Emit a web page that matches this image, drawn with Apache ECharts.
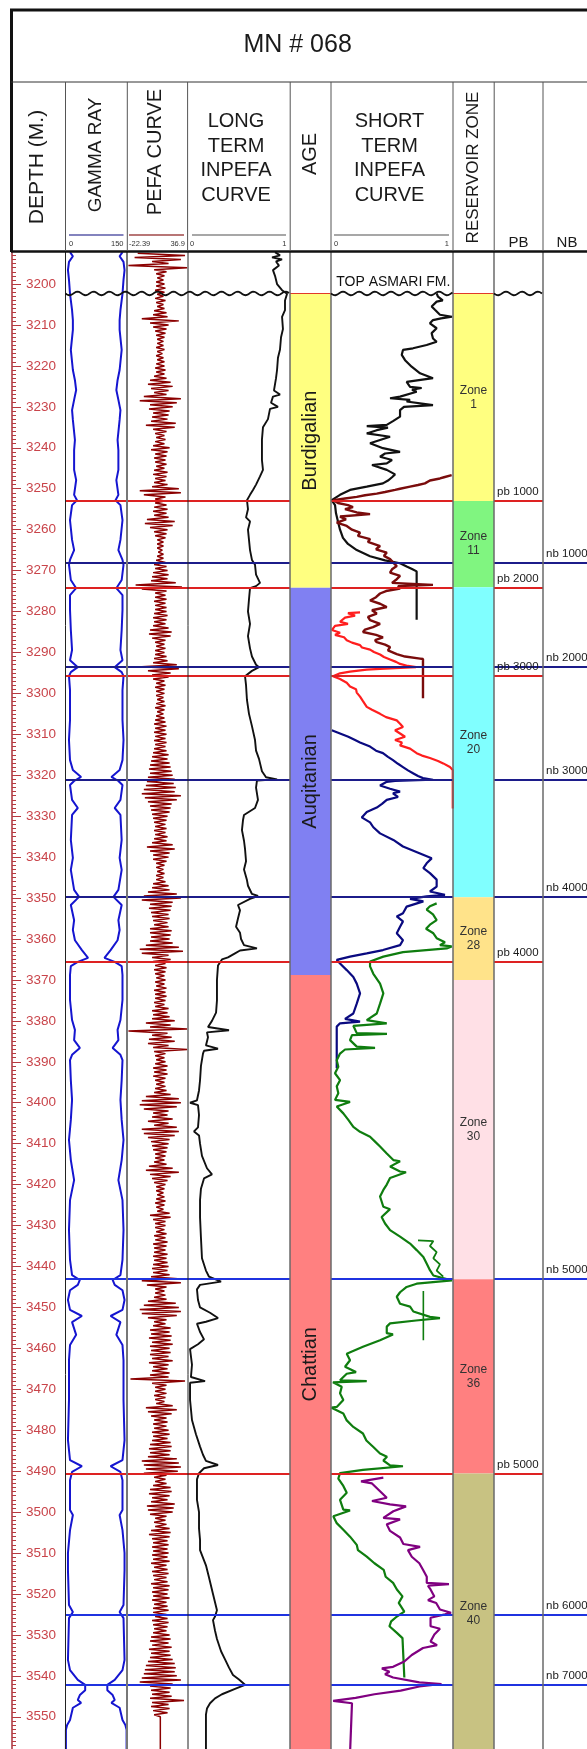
<!DOCTYPE html>
<html>
<head>
<meta charset="utf-8">
<script src="https://cdn.jsdelivr.net/npm/echarts@6.0.0/dist/echarts.min.js"></script>
<style>
html, body { margin: 0; padding: 0; background: #fff; }
#log { width: 587px; height: 1749px; }
</style>
</head>
<body>
<div id="log"></div>
<script>
var FONT = '"Liberation Sans", Arial, Helvetica, sans-serif';

// depth window of the log (metres), 3190 keeps the 10 m ticks on round depths
var DEPTH_MIN = 3190, DEPTH_MAX = 3560;
var topAsmari = 3202.3;

var ageNames = ['Burdigalian', 'Auqitanian', 'Chattian'];
var ageTops = [3202.3, 3274.2, 3368.8];
var ageBases = [3274.2, 3368.8, 3559];

var zoneNames = ['Zone\n1', 'Zone\n11', 'Zone\n20', 'Zone\n28', 'Zone\n30', 'Zone\n36', 'Zone\n40'];
var zoneTops = [3202.3, 3253.0, 3274.1, 3349.8, 3370.0, 3443.1, 3490.6];
var zoneBases = [3253.0, 3274.1, 3349.8, 3370.0, 3443.1, 3490.6, 3559];

var pbNames = ['pb 1000', 'pb 2000', 'pb 3000', 'pb 4000', 'pb 5000'];
var pbDepths = [3252.9, 3274.3, 3295.8, 3365.6, 3490.7];
var nbNames = ['nb 1000', 'nb 2000', 'nb 3000', 'nb 4000', 'nb 5000', 'nb 6000', 'nb 7000'];
var nbDepths = [3268.2, 3293.6, 3321.2, 3349.7, 3443.1, 3525.0, 3542.2];

// gamma ray, API (depth, value)
var gammaRay = [[3192.2,11],[3193.2,18],[3194.6,8.5],[3196.6,6],[3199,8.5],[3202.4,11],[3206.4,16],[3208.8,18],[3211.2,18],[3216.1,13],[3221,18],[3223.5,23],[3225.9,26],[3228.3,21],[3230.8,16],[3233.2,18],[3238.1,23],[3240.6,21],[3245.4,21],[3247.9,26],[3251.5,21],[3252.8,28],[3254,16],[3257.7,11],[3262.5,16],[3265,21],[3267.4,11],[3268.6,8.5],[3272.3,13],[3274.3,26],[3276,11],[3279.6,11],[3284.5,13],[3289.4,16],[3291.9,11],[3293.6,30],[3294.8,13],[3295.8,8.5],[3299.2,11],[3306.5,11],[3311.4,8.5],[3316.3,11],[3318.7,18],[3320.4,38],[3321.4,21],[3322.4,11],[3326,16],[3328,30],[3329.7,16],[3335.8,13],[3340.2,18],[3343.1,13],[3348,21],[3349.7,33],[3351.7,13],[3355.4,21],[3357.8,18],[3360.3,23],[3362.7,40],[3364.6,55],[3365.6,30],[3366.6,13],[3368.8,11],[3374.9,11],[3379.8,16],[3382.2,23],[3384.7,21],[3386.6,35],[3388.3,16],[3389.6,11],[3394.5,13],[3399.3,16],[3404.2,13],[3409.1,8.5],[3414,13],[3418.9,21],[3423.8,11],[3431.1,8.5],[3438.4,11],[3442.1,16],[3443.3,35],[3444.5,30],[3445.8,11],[3448.2,6],[3450.6,11],[3452.1,40],[3453.6,16],[3456.7,26],[3459.2,11],[3462.9,8.5],[3472.6,8.5],[3482.4,6],[3487.3,11],[3488.8,40],[3490.2,16],[3492.2,11],[3499.5,11],[3500.7,18],[3504.4,11],[3510,6],[3514.2,6],[3522.7,8.5],[3524.4,18],[3525.9,8.5],[3536.1,6],[3538.6,11],[3541,30],[3542.2,48],[3543.5,48],[3544.7,35],[3545.9,30],[3546.6,38],[3547.8,18],[3550.8,11],[3552,4],[3553.2,1],[3559,1]];

// PEFA curve sampled every 0.5 m from 3192.5 m
var pefaTop = 3192.5, pefaStep = 0.5;
var pefa = [
  -12,34,-15,30,2,18,-21,36,4,16,6,14,7,13,6,
  14,6,15,5,14,7,13,5,15,6,13,7,14,4,16,3,17,-8,28,0,
  18,3,16,5,15,6,14,7,13,7,13,6,14,7,12,6,13,7,14,6,
  14,5,15,6,14,4,16,0,20,-2,22,1,18,4,16,-6,30,-10,26,0,
  22,-1,19,3,18,2,17,1,25,-4,24,3,16,5,14,6,15,5,14,3,
  19,1,17,5,16,4,15,5,16,6,14,4,17,3,16,5,15,4,17,2,
  28,-10,30,-6,15,5,14,5,16,4,17,3,16,4,18,-3,24,-5,22,0,
  17,4,16,5,15,7,13,7,13,7,12,8,13,7,13,6,15,4,16,5,
  17,3,18,2,17,1,25,-14,31,-8,16,5,15,5,16,4,15,5,16,5,
  16,4,17,3,16,4,15,3,18,0,21,-1,20,2,15,5,14,6,15,5,
  14,5,16,4,17,3,26,-8,28,-2,20,2,18,3,14,6,15,5,14,6,
  14,6,13,7,14,6,15,5,14,7,13,6,14,5,15,4,16,5,15,4,
  16,5,15,4,16,5,15,4,16,3,18,2,17,1,19,0,20,-1,21,0,
  22,-2,24,-3,23,-4,25,-6,24,-8,30,-5,26,-2,21,0,20,1,19,2,
  17,3,16,4,15,5,16,4,15,5,17,4,16,2,22,-3,24,0,19,3,
  18,3,16,6,14,6,13,7,14,6,13,6,15,3,18,2,19,-2,26,-6,
  30,-8,22,0,21,-1,20,1,18,2,19,3,17,4,18,0,21,0,20,1,
  19,0,22,-4,28,-10,32,-8,18,2,20,3,15,5,16,4,15,5,14,6,
  15,5,14,6,16,4,15,5,16,5,15,4,14,5,18,2,17,3,19,2,
  24,-4,20,0,36,-21,17,2,21,-1,24,-2,18,3,36,4,15,5,14,6,
  15,5,17,3,16,4,17,3,15,5,14,6,15,5,16,4,20,-4,28,-8,
  30,-10,26,-6,18,3,17,2,22,-2,18,4,26,-8,28,-6,24,-2,19,1,
  18,2,17,3,16,5,15,5,14,4,16,-1,22,-4,28,0,20,2,17,4,
  15,6,14,6,13,7,14,6,15,5,14,6,13,7,19,0,20,3,15,5,
  15,5,14,6,16,4,15,5,17,3,16,4,15,4,17,3,16,4,17,3,
  18,2,17,3,19,1,27,-8,30,-3,16,5,14,5,15,4,16,-2,25,-6,
  28,-10,30,-8,26,-2,16,4,15,3,20,0,19,1,21,-1,20,2,22,0,
  19,1,20,0,18,2,22,-1,18,3,17,2,19,0,18,-19,34,2,16,5,
  15,5,16,4,15,5,14,6,22,-4,26,-2,21,1,16,4,17,3,16,4,
  18,2,19,3,17,2,20,0,21,-1,20,0,19,-2,26,-8,28,-6,30,-4,
  27,-6,16,4,15,5,16,3,20,0,21,-1,19,2,17,1,24,-3,23,-2,
  22,0,16,5,15,4,16,5,19,1,20,-1,19,2,17,3,18,2,17,3,
  18,2,17,3,19,1,16,4,17,2,18,3,16,4,17,1,19,3,18,2,
  17,3,19,2,16,4,17,3,18,3,16,5,17,2,18,3,17,4,16,3,
  19,1,20,0,18,2,21,-1,19,1,20,0,22,-2,24,-4,25,-5,24,-6,
  26,-8,30,-10,22,0,20,1,19,2,21,0,33,2,18,1,19,3,17,4,10
];
var pefaTail = [[3550.5, 10], [3559, 10]];

// long term INPEFA (depth, value 0..1)
var longTerm = [[3192.2,.853],[3193,.902],[3193.5,.824],[3194,.922],[3194.5,.863],[3195.5,.892],[3196.6,.833],[3198,.853],[3200,.873],[3201.5,.922],[3202.4,.971],[3204,.951],[3206.4,.951],[3208,.922],[3211,.931],[3213,.912],[3216,.902],[3218,.882],[3221,.873],[3223,.863],[3226,.843],[3227,.902],[3227.5,.833],[3229,.814],[3230,.882],[3230.5,.804],[3233,.784],[3235,.735],[3238,.725],[3243,.725],[3245.4,.735],[3247,.706],[3249,.667],[3250.3,.637],[3251.5,.608],[3252.8,.578],[3255,.588],[3257,.569],[3258,.608],[3260,.588],[3262.5,.598],[3265,.608],[3267.4,.627],[3268.6,.657],[3271,.667],[3273,.706],[3273.8,.667],[3274.3,.608],[3277,.598],[3280,.588],[3283,.608],[3286,.588],[3289,.608],[3291,.627],[3293,.667],[3293.6,.696],[3294.5,.627],[3295.8,.559],[3298,.569],[3301.6,.578],[3305,.598],[3308,.627],[3311.4,.657],[3314,.667],[3316,.696],[3319,.725],[3320.5,.765],[3321,.873],[3321.3,.676],[3323,.667],[3326,.686],[3328,.657],[3329.7,.549],[3331,.539],[3333.4,.529],[3336,.549],[3338,.559],[3341,.569],[3343,.549],[3345.6,.578],[3347,.588],[3349,.627],[3349.5,.686],[3350.2,.608],[3351.7,.490],[3353,.510],[3355,.490],[3357,.471],[3358.5,.510],[3360,.520],[3361.5,.549],[3362.3,.676],[3362.8,.510],[3363.5,.461],[3364.5,.392],[3365,.333],[3366.5,.294],[3370,.284],[3375,.284],[3378,.275],[3380,.235],[3381.5,.196],[3382.3,.402],[3382.8,.186],[3384,.196],[3386,.176],[3386.8,.294],[3387.3,.157],[3388,.147],[3391,.127],[3394.5,.118],[3397,.108],[3399.4,.088],[3400,.020],[3400.6,.098],[3403,.108],[3406,.098],[3407,.059],[3408,.108],[3410,.118],[3413,.137],[3416,.186],[3417.5,.235],[3418.5,.157],[3421,.127],[3423.8,.118],[3428,.118],[3433,.127],[3438,.137],[3441,.176],[3442.5,.206],[3443.7,.324],[3444.5,.118],[3445.6,.088],[3448.2,.098],[3450,.118],[3451.3,.216],[3452.6,.294],[3453.5,.176],[3454,.088],[3456,.118],[3457.8,.157],[3459,.098],[3460.2,.020],[3464,.039],[3467,.029],[3468,.167],[3468.4,.020],[3472.6,.020],[3477.5,.039],[3481,.078],[3484,.118],[3486,.147],[3487.5,.176],[3488.5,.294],[3489.3,.157],[3490.5,.108],[3492,.088],[3497,.088],[3500,.108],[3504,.108],[3506.8,.118],[3509.3,.118],[3513,.176],[3516,.206],[3520,.245],[3524,.284],[3525.5,.265],[3526.4,.245],[3529,.265],[3531,.284],[3534,.324],[3536,.363],[3538,.402],[3539.8,.441],[3540.9,.5],[3542.2,.559],[3543.2,.461],[3544.5,.333],[3545.5,.265],[3546.7,.216],[3548,.186],[3549.5,.176],[3559,.176]];

// short term INPEFA pieces (depth, value 0..1)
var stBlack = [[3202.3,.866],[3203.1,.877],[3204,.916],[3204.3,.866],[3205.5,.825],[3206.3,.852],[3207.5,.893],[3208,.992],[3208.4,.902],[3208.8,.836],[3209.6,.811],[3210.8,.866],[3212,.825],[3213.3,.836],[3214.1,.866],[3214.9,.784],[3215.7,.672],[3216.1,.590],[3217.3,.580],[3218.6,.607],[3220.2,.661],[3221.8,.730],[3223,.836],[3223.9,.620],[3225.1,.648],[3225.4,.743],[3225.8,.664],[3226.3,.702],[3227.5,.566],[3227.9,.484],[3228.3,.648],[3228.7,.620],[3229.6,.836],[3230,.598],[3230.8,.566],[3232.4,.566],[3233.5,.508],[3234.4,.457],[3234.7,.293],[3235.1,.467],[3235.7,.375],[3236.5,.293],[3237.3,.484],[3238.1,.402],[3238.9,.320],[3240.1,.426],[3241,.566],[3241.4,.443],[3242.2,.402],[3243,.500],[3243.8,.457],[3244.2,.336],[3245.4,.457],[3246.5,.525],[3247.2,.500],[3248,.467],[3248.7,.426],[3249.5,.293],[3250.3,.156],[3251.5,.074],[3252.8,.006],[3254,.033],[3256,.041],[3258,.057],[3260,.074],[3262,.098],[3263.5,.139],[3265,.211],[3266.5,.320],[3267.5,.443],[3268.2,.566],[3269,.620],[3269.6,.664],[3270.2,.702],[3282,.702]];
var stMaroon = [[3246.7,.989],[3247.2,.926],[3247.5,.893],[3248,.811],[3248.7,.770],[3249.1,.713],[3249.5,.648],[3250,.566],[3250.3,.525],[3250.8,.443],[3251.2,.375],[3251.6,.279],[3252,.211],[3252.4,.115],[3252.8,.019],[3253.5,.057],[3254,.139],[3254.5,.180],[3255,.115],[3255.8,.211],[3256.2,.320],[3256.8,.074],[3257.5,.123],[3258.3,.047],[3259.1,.129],[3260,.172],[3260.7,.238],[3261.5,.221],[3262.3,.320],[3263,.303],[3264,.402],[3264.8,.369],[3265.6,.457],[3266.4,.434],[3267.2,.484],[3268,.508],[3268.9,.539],[3269.7,.500],[3270.5,.484],[3271.3,.566],[3272.1,.539],[3273,.500],[3273.5,.836],[3273.8,.549],[3274.4,.566],[3275,.451],[3275.6,.402],[3276.5,.369],[3277.3,.320],[3278.1,.402],[3278.9,.457],[3279.7,.336],[3280.5,.375],[3281.3,.303],[3282.1,.320],[3283,.402],[3283.8,.344],[3284.4,.279],[3285,.262],[3285.7,.369],[3286.3,.426],[3287,.361],[3287.5,.375],[3288.1,.443],[3288.7,.484],[3289.5,.467],[3290.4,.539],[3291,.607],[3291.5,.730],[3291.6,.754],[3301.2,.754]];
var stRed = [[3280.2,.238],[3280.4,.139],[3281,.197],[3281.5,.115],[3282.5,.074],[3283,.139],[3283.5,.033],[3284.5,.008],[3285.2,.074],[3285.7,.033],[3286.3,.107],[3287,.129],[3287.6,.172],[3288.2,.238],[3288.8,.254],[3289.3,.320],[3289.9,.352],[3290.5,.402],[3291.1,.434],[3291.7,.484],[3292.3,.533],[3292.8,.566],[3293.3,.631],[3293.6,.697],[3294,.402],[3294.2,.293],[3294.7,.156],[3295.1,.074],[3295.8,.016],[3296.5,.074],[3297.4,.129],[3298.3,.156],[3299,.205],[3299.8,.211],[3300.8,.238],[3301.9,.262],[3303.3,.293],[3304,.336],[3305,.402],[3305.8,.451],[3306.6,.539],[3307.4,.566],[3308.2,.590],[3309,.525],[3309.8,.566],[3310.6,.607],[3311.4,.525],[3312,.582],[3312.7,.566],[3313.5,.648],[3314.6,.702],[3315.2,.746],[3315.8,.811],[3316.5,.877],[3317.1,.920],[3318,.975],[3318.7,.998],[3328.1,.998]];
var stNavy = [[3309,.006],[3309.8,.074],[3310.6,.142],[3311.4,.197],[3312,.238],[3313,.320],[3314,.369],[3314.6,.426],[3315.5,.467],[3316.3,.508],[3317.2,.549],[3318,.590],[3318.8,.631],[3319.5,.672],[3320.2,.713],[3320.7,.754],[3321.1,.836],[3321.4,.525],[3321.6,.457],[3322.5,.402],[3323.3,.484],[3324,.566],[3324.4,.508],[3325.3,.549],[3326,.457],[3327,.418],[3327.9,.375],[3329,.293],[3330.3,.252],[3331.5,.320],[3332.7,.347],[3334.2,.402],[3335.8,.511],[3337.4,.590],[3339.1,.730],[3340.3,.825],[3341.5,.784],[3342.7,.757],[3343.9,.811],[3345.5,.866],[3347.2,.866],[3348.4,.811],[3349.2,.934],[3349.6,.784],[3350.2,.648],[3350.8,.757],[3352.1,.620],[3353.7,.590],[3354.5,.539],[3355.7,.590],[3357,.566],[3358.6,.539],[3360.3,.590],[3361.5,.566],[3362.7,.426],[3363.5,.293],[3364.3,.156],[3365.1,.047],[3366,.074],[3367.6,.129],[3369.3,.183],[3370.9,.211],[3373.3,.238],[3375.8,.211],[3378.2,.183],[3379.5,.115],[3380.2,.238],[3380.6,.074],[3381.4,.047],[3391.6,.047]];
var stGreen = [[3351.3,.866],[3352,.811],[3352.8,.784],[3354,.836],[3355.4,.866],[3356.5,.811],[3357.5,.779],[3358.6,.839],[3359.8,.866],[3360.8,.934],[3361.5,.893],[3361.8,.989],[3362.3,.948],[3362.7,.948],[3363.2,.590],[3364.3,.429],[3365.5,.320],[3366.7,.320],[3368.5,.347],[3370.9,.402],[3373.3,.429],[3375.8,.402],[3378.2,.375],[3379.8,.293],[3380.6,.457],[3381.2,.183],[3383,.211],[3383.2,.459],[3383.5,.172],[3384.7,.156],[3386.3,.211],[3386.6,.361],[3387,.115],[3388,.074],[3389.6,.047],[3391.2,.060],[3392.8,.033],[3394.5,.074],[3396,.047],[3397.7,.060],[3399.3,.033],[3399.8,.156],[3400.9,.047],[3402.6,.101],[3404.2,.142],[3405.9,.183],[3407.1,.238],[3408.3,.320],[3409.5,.361],[3410.7,.402],[3412.4,.457],[3414,.511],[3414.3,.566],[3415.6,.484],[3416.8,.566],[3417,.615],[3418.4,.484],[3420,.457],[3421.3,.429],[3422.9,.402],[3425.4,.429],[3426,.484],[3427.9,.415],[3429.5,.443],[3431.1,.484],[3432.7,.566],[3434.4,.648],[3436,.702],[3437.7,.757],[3439.3,.784],[3440.9,.811],[3442.2,.839],[3443.1,.948],[3443.4,.992],[3444.2,.702],[3445,.620],[3446.3,.566],[3447.4,.539],[3449.1,.566],[3449.8,.648],[3451,.675],[3452.3,.811],[3452.6,.893],[3453.2,.697],[3453.9,.484],[3454.7,.457],[3456.3,.457],[3456.6,.508],[3458,.402],[3459.6,.262],[3461.3,.129],[3462.9,.156],[3464.5,.115],[3465.8,.205],[3466.2,.129],[3467.8,.074],[3468,.293],[3468.3,.016],[3469.4,.088],[3471,.074],[3472.6,.101],[3474.3,.047],[3474.5,.004],[3475.9,.101],[3477.6,.129],[3479.2,.183],[3480.8,.262],[3482.5,.290],[3484.1,.347],[3485.7,.402],[3486.5,.459],[3487.4,.429],[3488.6,.484],[3488.8,.590],[3489.7,.262],[3490.5,.074],[3491.8,.060],[3493.6,.101],[3495.3,.129],[3497,.074],[3499.4,.101],[3499.6,.156],[3501,.019],[3502.7,.047],[3504.3,.101],[3506,.156],[3508,.211],[3509.3,.221],[3510.9,.293],[3512.5,.356],[3514.1,.432],[3515.8,.448],[3517.3,.509],[3518.9,.540],[3520.6,.586],[3522.2,.555],[3524.3,.601],[3525.5,.540],[3526.7,.493],[3527.9,.479],[3529.5,.540],[3530.8,.586],[3531,.601],[3540.4,.601]];
var stGreenBranch = [[3433.6,.713],[3433.8,.839],[3435,.811],[3436.5,.866],[3438,.839],[3439.5,.893],[3441,.866],[3442.5,.920]];
var stGreenStub = [[3446,.757],[3458,.757]];
var stPurple = [[3491.6,.429],[3492.5,.246],[3493,.336],[3494.9,.402],[3496.5,.457],[3497.3,.336],[3498.1,.484],[3498.6,.615],[3499.8,.511],[3501.4,.429],[3501.8,.566],[3503,.457],[3504.6,.484],[3506.2,.566],[3507.8,.593],[3508.5,.730],[3509.3,.631],[3510.9,.662],[3512.5,.724],[3514.1,.754],[3515.8,.785],[3517.3,.785],[3517.6,.967],[3518,.795],[3518.9,.816],[3520.6,.847],[3521.5,.795],[3522.2,.862],[3523.8,.893],[3524.6,.984],[3525,.934],[3525.8,.816],[3527.9,.816],[3528.5,.893],[3529.9,.847],[3531.6,.816],[3532.5,.869],[3533.2,.754],[3534.9,.662],[3536.5,.601],[3537.8,.509],[3538.2,.417],[3539,.479],[3539.6,.443],[3540.4,.509],[3541.6,.724],[3542,.906],[3542.6,.724],[3543.6,.571],[3544.5,.356],[3545.4,.202],[3546.1,.018],[3546.7,.172],[3547.1,.156],[3559,.156]];

// styles
var ageColors = ['#ffff80', '#8080f2', '#ff8080'];
var zoneColors = ['#ffff80', '#80f580', '#80ffff', '#ffe38a', '#ffe0e6', '#ff8080', '#c8c282'];
var pbColor = '#de2222';
var nbColors = ['#1c1c8a', '#1c1c8a', '#1c1c8a', '#1c1c8a', '#1f33e0', '#1f33e0', '#1f33e0'];

// track layout: [left, width] in px
var tracks = [
  [12, 53],      // 0 depth
  [65.5, 61.5],  // 1 gamma ray
  [127, 61],     // 2 pefa
  [188, 102],    // 3 long term inpefa
  [290, 41],     // 4 age
  [331, 122],    // 5 short term inpefa
  [453, 41],     // 6 reservoir zone
  [494, 49],     // 7 pb
  [543, 60],     // 8 nb
  [65, 225]      // 9 boundaries over GR..LT
];
var PX_TOP = 243.1, PX_H = 1514.6;

var chart = echarts.init(document.getElementById('log'));

var grids = tracks.map(function (t) {
  return {left: t[0], width: t[1], top: PX_TOP, height: PX_H, outerBoundsMode: 'none', show: false};
});

var xRanges = [[0, 1], [0, 150], [-22.39, 36.9], [0, 1], [0, 1], [0, 1], [0, 1], [0, 1], [0, 1], [0, 1]];
var xAxes = xRanges.map(function (r, i) {
  return {gridIndex: i, type: 'value', min: r[0], max: r[1], show: false};
});
xAxes.push({gridIndex: 1, type: 'value', min: 0, max: 150, inverse: true, show: false}); // mirrored GR

var yAxes = tracks.map(function (t, i) {
  return {gridIndex: i, type: 'value', inverse: true, min: DEPTH_MIN, max: DEPTH_MAX, show: false};
});
yAxes[0] = {
  gridIndex: 0, type: 'value', inverse: true, min: DEPTH_MIN, max: DEPTH_MAX, interval: 10, position: 'left',
  axisLine: {show: true, lineStyle: {color: '#a8323a', width: 1.5}},
  axisTick: {show: true, inside: true, length: 9, lineStyle: {color: '#b8393f', width: 1}},
  minorTick: {show: true, splitNumber: 10, length: 4, lineStyle: {color: '#b8393f', width: 1}},
  axisLabel: {
    inside: true, margin: 14, color: '#c9444a', fontSize: 13.5, fontFamily: FONT,
    formatter: function (v) { return (v <= DEPTH_MIN || v >= DEPTH_MAX) ? '' : String(v); }
  },
  splitLine: {show: false}, minorSplitLine: {show: false}
};

function curve(points, xIdx, yIdx, color, width) {
  return {
    type: 'line', xAxisIndex: xIdx, yAxisIndex: yIdx, silent: true, showSymbol: false, symbol: 'none',
    data: points.map(function (p) { return [p[1], p[0]]; }),
    lineStyle: {color: color, width: width}, z: 3
  };
}

var pefaPoints = pefa.map(function (v, i) { return [pefaTop + i * pefaStep, v]; }).concat(pefaTail);

function pbItems(withLabel) {
  return pbDepths.map(function (d, i) {
    return {
      yAxis: d, lineStyle: {color: pbColor, width: 2, type: 'solid'},
      label: withLabel ? {show: true, position: 'insideStartTop', distance: 3, formatter: pbNames[i],
        color: '#1a1a1a', fontSize: 11.5, fontFamily: FONT} : {show: false}
    };
  });
}
function nbItems(withLabel) {
  return nbDepths.map(function (d, i) {
    return {
      yAxis: d, lineStyle: {color: nbColors[i], width: 2, type: 'solid'},
      label: withLabel ? {show: true, position: 'insideStartTop', distance: 3, formatter: nbNames[i],
        color: '#1a1a1a', fontSize: 11.5, fontFamily: FONT} : {show: false}
    };
  });
}
function boundaries(gi, items) {
  return {
    type: 'line', xAxisIndex: gi, yAxisIndex: gi, data: [], silent: true, z: 5,
    markLine: {silent: true, symbol: ['none', 'none'], animation: false, label: {show: false}, data: items}
  };
}
function bands(gi, tops, bases, names, colors, label) {
  return {
    type: 'line', xAxisIndex: gi, yAxisIndex: gi, data: [], silent: true, z: 1,
    markArea: {
      silent: true, animation: false, label: label,
      data: names.map(function (n, i) {
        return [{name: n, yAxis: tops[i], itemStyle: {color: colors[i], opacity: 1}}, {yAxis: bases[i]}];
      })
    },
    markLine: {silent: true, symbol: ['none', 'none'], animation: false, label: {show: false},
      lineStyle: {color: '#e03a2a', width: 1, type: 'solid'}, data: [{yAxis: topAsmari}]}
  };
}

var series = [
  bands(4, ageTops, ageBases, ageNames, ageColors,
    {show: true, position: 'inside', rotate: 90, color: '#1a1a1a', fontSize: 20, fontFamily: FONT}),
  bands(6, zoneTops, zoneBases, zoneNames, zoneColors,
    {show: true, position: 'inside', color: '#333', fontSize: 12, lineHeight: 14, fontFamily: FONT}),
  curve(gammaRay, 1, 1, '#1515d0', 2),
  curve(gammaRay, 10, 1, '#1515d0', 2),
  curve(pefaPoints, 2, 2, '#8b0000', 1.5),
  curve(longTerm, 3, 3, '#111', 1.9),
  curve(stBlack, 5, 5, '#111', 2.2),
  curve(stMaroon, 5, 5, '#7a0c0c', 2.4),
  curve(stRed, 5, 5, '#ff1e1e', 2.2),
  curve(stNavy, 5, 5, '#0a0a80', 2.2),
  curve(stGreen, 5, 5, '#0f7d0f', 2.2),
  curve(stGreenBranch, 5, 5, '#0f7d0f', 1.8),
  curve(stGreenStub, 5, 5, '#0f7d0f', 1.6),
  curve(stPurple, 5, 5, '#800080', 2.2),
  boundaries(9, pbItems(false).concat(nbItems(false))),
  boundaries(5, pbItems(false).concat(nbItems(false))),
  boundaries(7, pbItems(true).concat(nbItems(false))),
  boundaries(8, nbItems(true))
];

chart.setOption({
  animation: false,
  backgroundColor: '#fff',
  grid: grids,
  xAxis: xAxes,
  yAxis: yAxes,
  series: series
});

// header, frame and the Top Asmari unconformity
var g = [];
function line(x1, y1, x2, y2, color, w, z) {
  g.push({type: 'line', silent: true, z: z || 61, shape: {x1: x1, y1: y1, x2: x2, y2: y2}, style: {stroke: color, lineWidth: w}});
}
function text(x, y, str, size, opt) {
  opt = opt || {};
  g.push({
    type: 'text', silent: true, z: 62, x: x, y: y, rotation: opt.rot ? Math.PI / 2 : 0,
    style: {
      text: str, fill: opt.color || '#1a1a1a', fontSize: size, fontFamily: FONT,
      lineHeight: opt.lh || size * 1.2,
      align: opt.align || 'center', textAlign: opt.align || 'center',
      verticalAlign: 'middle', textVerticalAlign: 'middle'
    }
  });
}

g.push({type: 'rect', silent: true, z: 60, shape: {x: 0, y: 0, width: 587, height: 251.5}, style: {fill: '#fff'}});

// frame
line(10, 10, 587, 10, '#111', 3);
line(11.5, 9, 11.5, 252, '#111', 3);
line(11, 82, 587, 82, '#333', 1);
line(11, 251.5, 587, 251.5, '#111', 2.5);

var cols = [65.5, 127.3, 187.6, 290.2, 331, 453, 494.2, 543];
cols.forEach(function (x) { line(x, 82, x, 251, '#555', 1); });

// track borders in the log body
var bodyCols = [[65.5, '#222', 1], [127, '#777', 2], [188, '#222', 1], [290, '#6a6a6a', 1.5],
  [331, '#6a6a6a', 1.5], [453, '#6a6a6a', 1.5], [494, '#6a6a6a', 1.5], [543, '#6a6a6a', 1.5]];
bodyCols.forEach(function (c) { line(c[0], 251, c[0], 1749, c[1], c[2], 20); });

text(297.6, 45, 'MN # 068', 25);
text(37.5, 167, 'DEPTH (M.)', 21, {rot: true});
text(95.5, 155, 'GAMMA RAY', 19, {rot: true});
text(155.5, 152, 'PEFA CURVE', 20, {rot: true});
text(236, 158.3, 'LONG\nTERM\nINPEFA\nCURVE', 20, {lh: 24.5});
text(310.5, 154, 'AGE', 20, {rot: true});
text(389.5, 158.3, 'SHORT\nTERM\nINPEFA\nCURVE', 20, {lh: 24.5});
text(473.6, 167.5, 'RESERVOIR ZONE', 17, {rot: true});
text(518.5, 243, 'PB', 15);
text(567, 243, 'NB', 15);

// curve scales
line(69, 235, 123.5, 235, '#5a5aa8', 1.5);
line(129, 235, 184, 235, '#a04848', 1.5);
line(192, 235, 286, 235, '#8a8a8a', 1.5);
line(334, 235, 449, 235, '#8a8a8a', 1.5);
text(69, 243.5, '0', 7.5, {align: 'left', color: '#333'});
text(123.5, 243.5, '150', 7.5, {align: 'right', color: '#333'});
text(129, 243.5, '-22.39', 7.5, {align: 'left', color: '#333'});
text(185, 243.5, '36.9', 7.5, {align: 'right', color: '#333'});
text(190, 243.5, '0', 7.5, {align: 'left', color: '#333'});
text(286.5, 243.5, '1', 7.5, {align: 'right', color: '#333'});
text(334, 243.5, '0', 7.5, {align: 'left', color: '#333'});
text(449, 243.5, '1', 7.5, {align: 'right', color: '#333'});

// wavy unconformity at the top of the Asmari formation
var yTop = chart.convertToPixel({yAxisIndex: 0}, topAsmari);
[[65.5, 290], [331, 453], [494, 543]].forEach(function (seg) {
  var pts = [];
  for (var x = seg[0]; x <= seg[1]; x += 1.5) {
    pts.push([x, yTop + 1.8 * Math.sin((x - seg[0]) / 16 * 2 * Math.PI)]);
  }
  g.push({type: 'polyline', silent: true, z: 21, shape: {points: pts}, style: {stroke: '#111', lineWidth: 1.8, fill: null}});
});
text(393.3, yTop - 11.5, 'TOP ASMARI FM.', 14, {color: '#111'});

chart.setOption({graphic: {elements: g}});
</script>
</body>
</html>
